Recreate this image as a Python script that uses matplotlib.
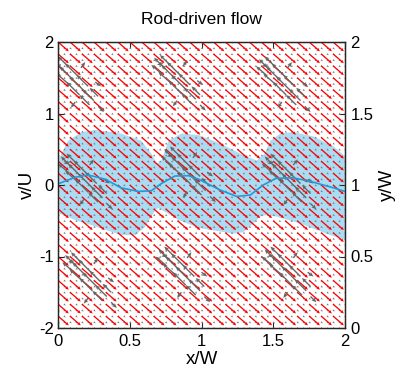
import numpy as np
import matplotlib
matplotlib.use("Agg")
import matplotlib.pyplot as plt

plt.rcParams['font.family'] = ['Liberation Sans', 'DejaVu Sans']

# background flow (red), uniform on a coarse grid
red_x = np.linspace(0, 2, 25)
red_y = np.linspace(0, 2, 25)
red_u = 0.075
red_v = -0.065

# gray disturbance field: tiny background arrows on a fine grid
gray_x = np.linspace(0, 2, 49)
gray_y = np.linspace(0, 2, 49)
gray_u = 0.012
gray_v = -0.009

# rod positions (x/W, y/W)
rod_x = [0.14, 0.85, 1.58, 0.20, 0.92, 1.62, 0.23, 0.88, 1.62]
rod_y = [1.70, 1.71, 1.70, 1.02, 1.07, 1.02, 0.33, 0.37, 0.37]

# arrows near one rod, relative to its centre
tpl_dx = [-0.10, -0.03, 0.04, 0.11, -0.07, 0.00, 0.07, 0.14,
          -0.13, -0.06, 0.01, 0.08, -0.12, 0.02, 0.12, -0.02, 0.14]
tpl_dy = [0.10, 0.03, -0.04, -0.11, 0.13, 0.06, -0.01, -0.08,
          0.07, 0.00, -0.07, -0.14, 0.14, 0.12, 0.02, -0.12, -0.15]
tpl_u = [-0.08, -0.10, -0.10, -0.08, -0.07, -0.09, -0.08, -0.06,
         -0.07, -0.09, -0.09, -0.07, -0.04, 0.03, 0.04, -0.03, 0.04]
tpl_v = [0.08, 0.10, 0.10, 0.08, 0.07, 0.09, 0.08, 0.06,
         0.06, 0.08, 0.09, 0.07, -0.01, 0.04, -0.03, -0.04, -0.04]

# rod centre line (x/W, y/W)
line_x = [0.01, 0.12, 0.21, 0.33, 0.44, 0.56, 0.65, 0.72, 0.815, 0.91, 0.98,
          1.13, 1.245, 1.34, 1.43, 1.52, 1.64, 1.76, 1.92, 2.0]
line_y = [1.012, 1.054, 1.07, 1.04, 0.98, 0.955, 0.96, 1.01, 1.063, 1.065, 1.04,
          0.965, 0.92, 0.93, 1.0, 1.047, 1.05, 1.025, 0.98, 0.955]

# swept region envelope
up_x = [0.01, 0.07, 0.165, 0.26, 0.44, 0.58, 0.65, 0.69, 0.72, 0.77, 0.86, 0.98,
        1.13, 1.27, 1.385, 1.44, 1.48, 1.55, 1.64, 1.78, 1.92, 2.0]
up_y = [1.19, 1.31, 1.37, 1.385, 1.36, 1.31, 1.22, 1.15, 1.17, 1.31, 1.36, 1.35,
        1.29, 1.22, 1.17, 1.22, 1.31, 1.36, 1.37, 1.34, 1.27, 1.20]
lo_x = [0.01, 0.12, 0.26, 0.44, 0.54, 0.61, 0.65, 0.68, 0.70, 0.75, 0.84, 0.98,
        1.22, 1.29, 1.36, 1.41, 1.45, 1.52, 1.69, 1.87, 2.0]
lo_y = [0.80, 0.755, 0.71, 0.65, 0.65, 0.71, 0.78, 0.825, 0.84, 0.81, 0.755, 0.70,
        0.66, 0.67, 0.73, 0.78, 0.79, 0.78, 0.73, 0.66, 0.615]

xticks = [0, 0.5, 1, 1.5, 2]
xticklabels = ['0', '0.5', '1', '1.5', '2']
vticks = [-2, -1, 0, 1, 2]
vticklabels = ['-2', '-1', '0', '1', '2']
yticks = [0, 0.5, 1, 1.5, 2]
yticklabels = ['0', '0.5', '1', '1.5', '2']

fig = plt.figure(figsize=(4.09, 3.81), dpi=100)
ax = fig.add_axes([58 / 409, 53 / 381, 287 / 409, 286 / 381])
axl = ax.twinx()  # left axis for v/U (set up below)

# envelope and centre line
ax.fill(up_x + lo_x[::-1], up_y + lo_y[::-1], color='#aadcf4', lw=0, zorder=1)
ax.plot(line_x, line_y, color='#1f9bd7', lw=1.2, zorder=5)

# gray background
GX, GY = np.meshgrid(gray_x, gray_y)
ax.quiver(GX, GY, np.full(GX.shape, gray_u), np.full(GX.shape, gray_v),
          color='#808080', angles='xy', scale_units='xy', scale=1,
          width=0.0038, headwidth=2.5, headlength=2.5, headaxislength=2.3,
          zorder=2)

# red uniform flow
RX, RY = np.meshgrid(red_x, red_y)
ax.quiver(RX, RY, np.full(RX.shape, red_u), np.full(RX.shape, red_v),
          color='#ff0000', angles='xy', scale_units='xy', scale=1,
          width=0.0045, headwidth=2.5, headlength=2.6, headaxislength=2.4,
          zorder=3)

# gray arrows around rods
cx, cy, cu, cv = [], [], [], []
for rx, ry in zip(rod_x, rod_y):
    for dx, dy, u, v in zip(tpl_dx, tpl_dy, tpl_u, tpl_v):
        cx.append(rx + dx)
        cy.append(ry + dy)
        cu.append(u)
        cv.append(v)
ax.quiver(cx, cy, cu, cv, color='#666666', angles='xy', scale_units='xy', scale=1,
          width=0.0048, headwidth=3, headlength=3.5, headaxislength=3,
          zorder=4)

ax.set_xlim(0, 2)
ax.set_ylim(0, 2)
ax.set_xticks(xticks)
ax.set_xticklabels(xticklabels)
ax.yaxis.tick_right()
ax.yaxis.set_label_position('right')
ax.set_yticks(yticks)
ax.set_yticklabels(yticklabels)
ax.set_xlabel('x/W', fontsize=13.5, labelpad=2)
ax.set_ylabel('y/W', fontsize=13.5, labelpad=4)
ax.tick_params(direction='in', length=4, labelsize=12, top=True, right=True,
               left=False, labelleft=False, labelright=True, pad=4, color='#262626')
ax.set_title('Rod-driven flow', fontsize=12.5, pad=13)

axl.yaxis.tick_left()
axl.yaxis.set_label_position('left')
axl.set_ylim(-2, 2)
axl.set_yticks(vticks)
axl.set_yticklabels(vticklabels)
axl.set_ylabel('v/U', fontsize=13.5, labelpad=2)
axl.tick_params(direction='in', length=4, labelsize=12, right=False, labelright=False,
                left=True, labelleft=True, pad=3, color='#262626')

for a in (ax, axl):
    for s in a.spines.values():
        s.set_color('#262626')
        s.set_linewidth(0.9)

fig.savefig('out.png', dpi=100)
